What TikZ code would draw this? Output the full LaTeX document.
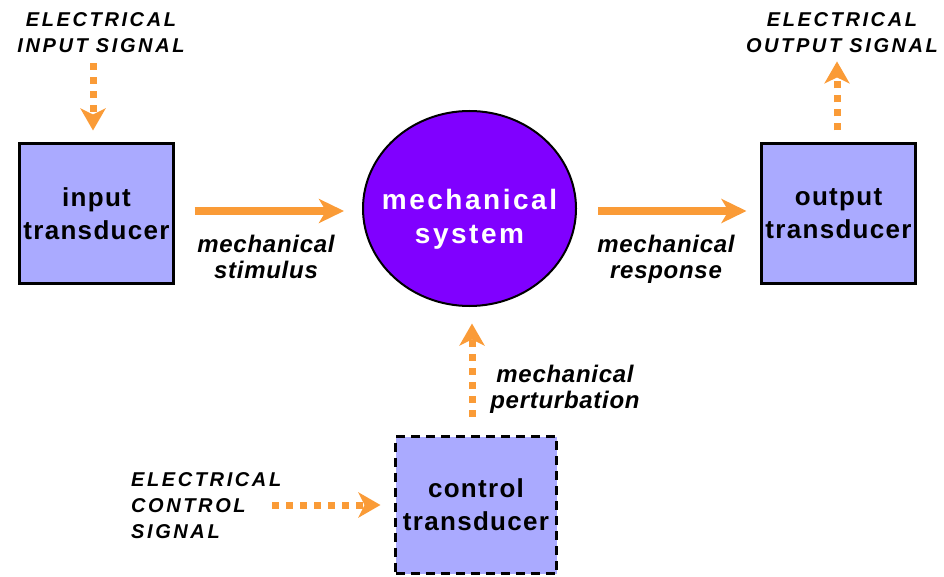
\documentclass[tikz,border=0pt]{standalone}
\usepackage{fontspec}
\usetikzlibrary{arrows.meta,shapes.geometric}
\newfontfamily\sigfont[LetterSpace=13]{Liberation Sans}
\newfontfamily\labfont[LetterSpace=3]{Liberation Sans}
\newfontfamily\boxtfont[LetterSpace=5]{Liberation Sans}
\newfontfamily\sysfont[LetterSpace=9]{Liberation Sans}
\definecolor{arrowor}{RGB}{250,155,55}
\definecolor{boxfill}{RGB}{170,170,255}
\definecolor{sysfill}{RGB}{128,0,255}
\tikzset{
  tbox/.style={draw=black, line width=3pt, fill=boxfill, inner sep=0pt, align=center,
    font=\boxtfont\bfseries\fontsize{26}{33}\selectfont},
  ctrlbox/.style={tbox, dash pattern=on 9pt off 6pt},
  sysnode/.style={ellipse, draw=black, line width=2pt, fill=sysfill, inner xsep=-30pt, inner ysep=0pt,
    align=center, text=white, font=\sysfont\bfseries\fontsize{28}{34}\selectfont},
  siglabel/.style={inner sep=3pt, align=center, font=\sigfont\bfseries\itshape\fontsize{20}{26}\selectfont},
  mechlabel/.style={inner sep=3pt, align=center, font=\labfont\bfseries\itshape\fontsize{24}{26}\selectfont},
  solidarrow/.style={draw=arrowor, line width=8pt, -{Stealth[length=25pt,width=24pt,inset=7pt]}},
  dotarrow/.style={draw=arrowor, line width=7pt, dash pattern=on 7pt off 7pt,
    -{Stealth[length=22pt,width=25pt,inset=6pt]}}
}
\begin{document}
\begin{tikzpicture}[x=1pt,y=-1pt]
\useasboundingbox (0,0) rectangle (944,577);
% boxes
\node[tbox, minimum width=154pt, minimum height=140pt] (inbox) at (96.5,213.5) {input\\transducer};
\node[tbox, minimum width=154pt, minimum height=140pt] (outbox) at (838.5,213.5) {output\\transducer};
\node[ctrlbox, minimum width=161pt, minimum height=137pt] (ctrl) at (476,505) {control\\transducer};
\node[sysnode, minimum width=213pt, minimum height=195pt] (sys) at (469.5,208.5) {\rule{0pt}{42pt}mechanical\\system};
% labels
\node[siglabel, anchor=base] (insig) at (101,53) {ELECTRICAL\\INPUT SIGNAL};
\node[siglabel, anchor=base] (outsig) at (842,53) {ELECTRICAL\\OUTPUT SIGNAL};
\node[siglabel, anchor=base west, align=left, inner sep=0pt] (ctrlsig) at (131,538) {ELECTRICAL\\CONTROL\\SIGNAL};
\node[mechlabel, anchor=base] (stim) at (266,278) {mechanical\\stimulus};
\node[mechlabel, anchor=base] (resp) at (666,278) {mechanical\\response};
\node[mechlabel, anchor=base] (pert) at (565,408) {mechanical\\perturbation};
\coordinate (csstart) at (272,505);
% connectors
\draw[solidarrow, shorten <=19.5pt, shorten >=18pt] ([yshift=-2.5pt]inbox.east |- sys.west) -- ([yshift=-2.5pt]sys.west);
\draw[solidarrow, shorten <=21pt, shorten >=13.5pt] ([yshift=-2.5pt]sys.east) -- ([yshift=-2.5pt]outbox.west |- sys.east);
\draw[dotarrow, shorten <=7pt, shorten >=11.5pt] ([xshift=-3.5pt]inbox.north |- insig.south) -- ([xshift=-3.5pt]inbox.north);
\draw[dotarrow, shorten <=11.5pt, shorten >=5pt] ([xshift=-1.5pt]outbox.north) -- ([xshift=-1.5pt]outbox.north |- outsig.south);
\draw[dotarrow, shorten <=18.5pt, shorten >=16.5pt] ([xshift=-4pt]ctrl.north) -- ([xshift=-4pt]ctrl.north |- sys.south);
\draw[dotarrow, shorten >=13.5pt] (csstart) -- (ctrl.west);
\end{tikzpicture}
\end{document}
